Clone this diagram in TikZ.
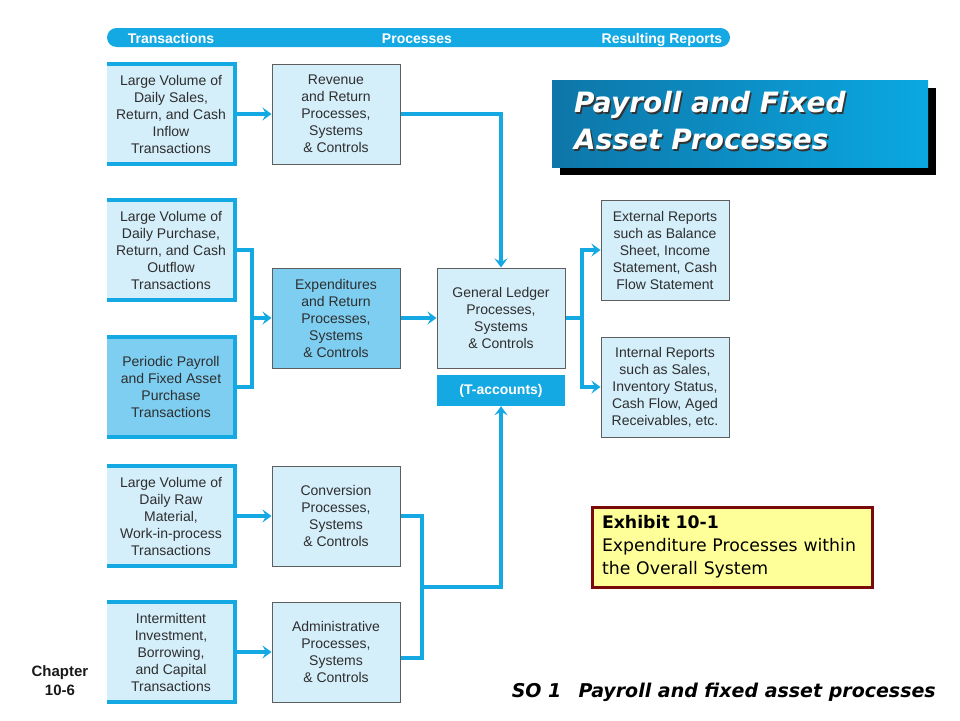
\documentclass[tikz,border=0pt]{standalone}
\usepackage{fontspec}
\setmainfont{Liberation Sans}
\newfontfamily\comicfont{DejaVu Sans}
\usetikzlibrary{arrows.meta,shadows}

\definecolor{barcyan}{HTML}{15A9E3}
\definecolor{boxlight}{HTML}{D4EEFA}
\definecolor{boxdark}{HTML}{7ECEF1}
\definecolor{boxline}{HTML}{5E5E5E}
\definecolor{boxtext}{HTML}{2E2E2E}
\definecolor{titleleft}{HTML}{0E76A8}
\definecolor{titleright}{HTML}{0AA8E2}
\definecolor{exyellow}{HTML}{FFFF99}
\definecolor{exred}{HTML}{7A0A0A}

\begin{document}
\begin{tikzpicture}[x=1pt,y=-1pt,node distance=165pt,
  trans/.style={fill=boxlight, minimum width=128pt, minimum height=100pt, inner sep=0pt, align=center, text=boxtext, font=\fontsize{14pt}{17pt}\selectfont},
  proc/.style={trans, draw=boxline, line width=1pt},
  tedge/.style={barcyan, line width=4pt, line join=miter},
  link/.style={barcyan, line width=3.5pt},
  arr/.style={link, -{Stealth[length=9pt,width=13pt,inset=3.5pt]}},
  head/.style={text=white, font=\bfseries\fontsize{14pt}{17pt}\selectfont}]
\useasboundingbox (0,0) rectangle (960,720);
\node [fill=barcyan, rounded corners=9.5pt, minimum width=623pt, minimum height=19pt] (bar) at (418.5,37.5) {};
\node [head, anchor=base] (hbt) at (171,43) {Transactions};
\node [head, anchor=base] (hbp) at (417,43) {Processes};
\node [head, anchor=base] (hbr) at (662,43) {Resulting Reports};

\node [trans] (t1) at (171,114) {Large Volume of\\Daily Sales,\\Return, and Cash\\Inflow\\Transactions};
\node [trans] (t2) at (171,250) {Large Volume of\\Daily Purchase,\\Return, and Cash\\Outflow\\Transactions};
\node [trans, fill=boxdark] (t3) at (171,387) {Periodic Payroll\\and Fixed Asset\\Purchase\\Transactions};
\node [trans] (t4) at (171,516) {Large Volume of\\Daily Raw\\Material,\\Work-in-process\\Transactions};
\node [trans] (t5) at (171,652) {Intermittent\\Investment,\\Borrowing,\\and Capital\\Transactions};

\node [proc, right of=t1] (p1) {Revenue\\and Return\\Processes,\\Systems\\\& Controls};
\node [proc, fill=boxdark] (p2) at (336,318) {Expenditures\\and Return\\Processes,\\Systems\\\& Controls};
\node [proc, right of=t4] (p3) {Conversion\\Processes,\\Systems\\\& Controls};
\node [proc, right of=t5] (p4) {Administrative\\Processes,\\Systems\\\& Controls};
\node [proc, right of=p2] (gl) {General Ledger\\Processes,\\Systems\\\& Controls};
\node [below of=gl, node distance=72.5pt, fill=barcyan, minimum width=128pt, minimum height=31pt, head] (tacc) {(T-accounts)};
\node [proc] (ext) at (665,250) {External Reports\\such as Balance\\Sheet, Income\\Statement, Cash\\Flow Statement};
\node [proc] (int) at (665,387) {Internal Reports\\such as Sales,\\Inventory Status,\\Cash Flow, Aged\\Receivables, etc.};

\foreach \b in {t1,t2,t3,t4,t5}
  \draw [tedge] (\b.north west) -- (\b.north east) -- (\b.south east) -- (\b.south west);

\coordinate (jx) at (252,318);
\coordinate (jg) at (582,318);
\coordinate (jc) at (422,587);
\draw [arr] (t1) -- (p1);
\draw [arr] (t4) -- (p3);
\draw [arr] (t5) -- (p4);
\draw [arr] (p1) -| (gl);
\draw [link] (t2) -| (jx) |- (t3);
\draw [arr] (jx) -- (p2);
\draw [arr] (p2) -- (gl);
\draw [link] (gl) -- (jg);
\draw [arr] (jg) |- (ext);
\draw [arr] (jg) |- (int);
\draw [link] (p3) -| (jc) |- ([yshift=-6pt]p4.east);
\draw [arr] (jc) -| (tacc);

\node [left color=titleleft, right color=titleright, minimum width=376pt, minimum height=87pt, drop shadow={shadow xshift=8pt, shadow yshift=-8pt, fill=black, opacity=1}] (title) at (740,123.5) {};
\node [anchor=west, inner sep=0pt, align=left, text=black!80, font=\comicfont\bfseries\itshape\fontsize{28pt}{37pt}\selectfont] (titleshade) at (575.5,122.5) {Payroll and Fixed\\Asset Processes};
\node [anchor=west, inner sep=0pt, align=left, text=white, font=\comicfont\bfseries\itshape\fontsize{28pt}{37pt}\selectfont] (titletext) at (574,121) {Payroll and Fixed\\Asset Processes};

\node [fill=exyellow, draw=exred, line width=3pt, text width=260pt, inner xsep=10pt, minimum height=80pt, align=left, font=\comicfont\fontsize{17.3pt}{23pt}\selectfont] (exhibit) at (732,547) {\textbf{Exhibit 10-1}\\Expenditure Processes within\\the Overall System};

\node [anchor=base east, inner sep=0pt, font=\comicfont\bfseries\itshape\fontsize{19pt}{23pt}\selectfont] (so) at (936,697) {SO 1\hspace{0.9em}Payroll and fixed asset processes};
\node [align=center, font=\bfseries\fontsize{15pt}{19pt}\selectfont, text=black!90] (chap) at (60,681) {Chapter\\10-6};
\end{tikzpicture}
\end{document}
